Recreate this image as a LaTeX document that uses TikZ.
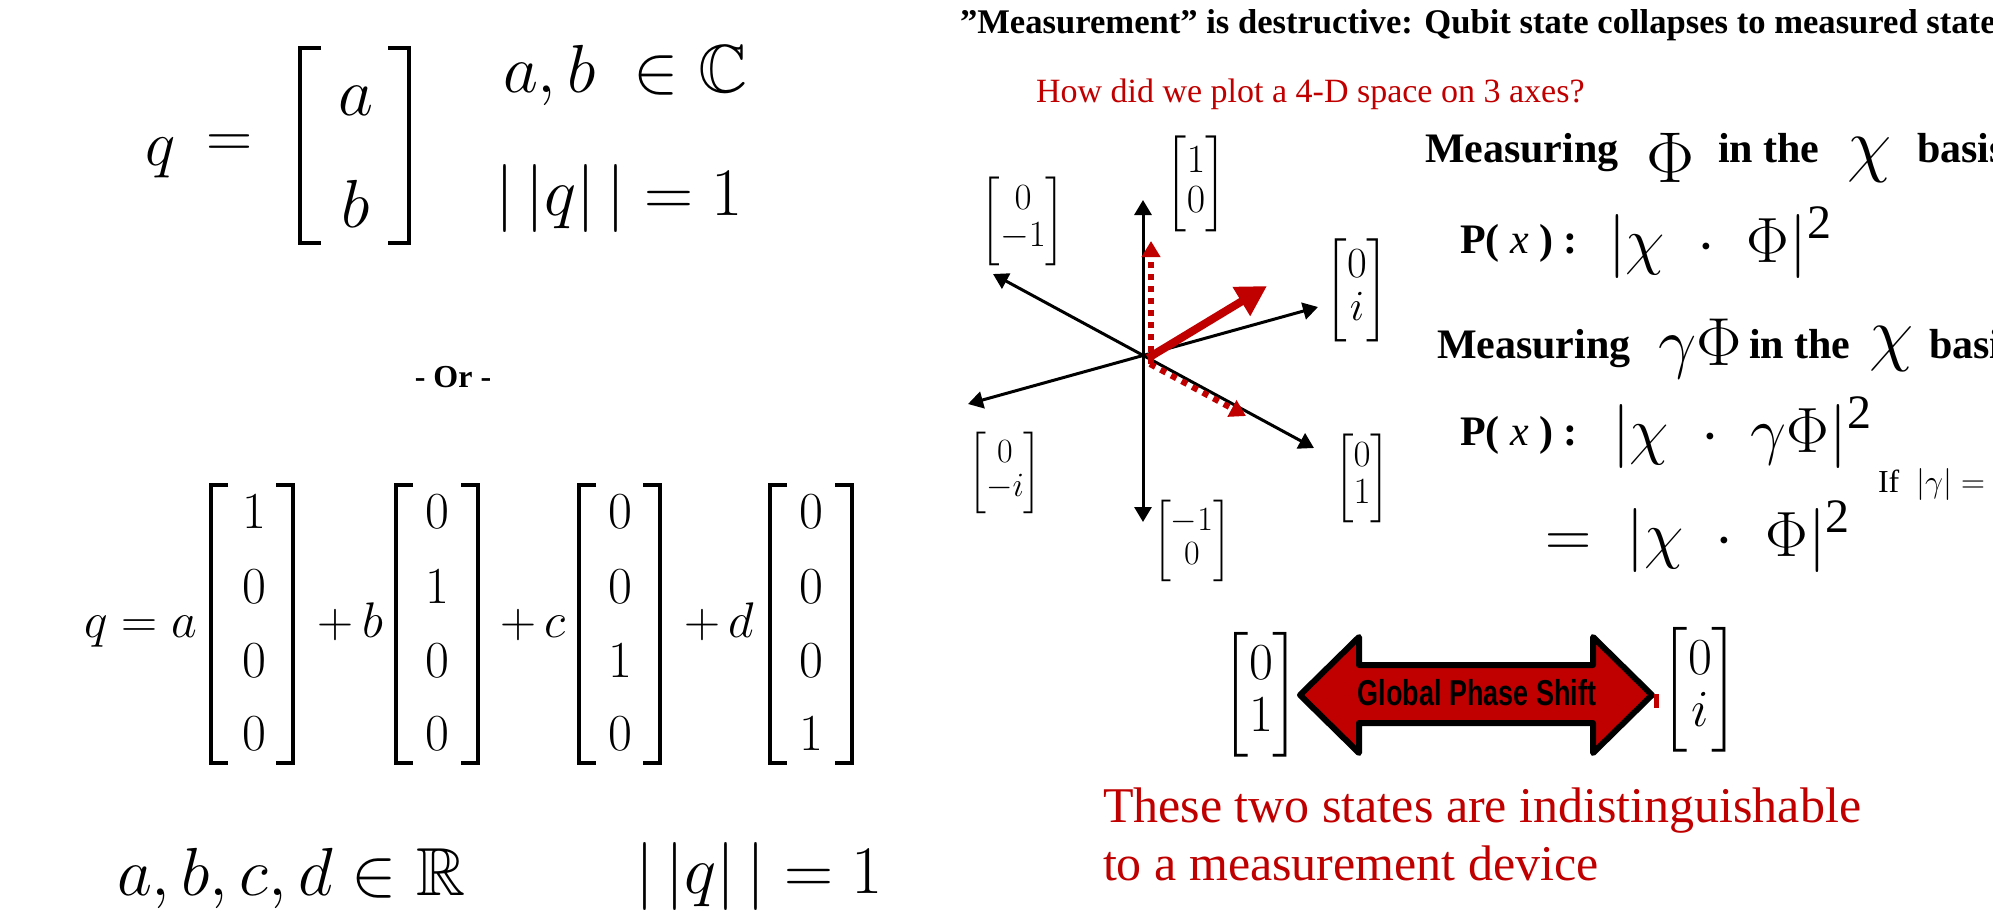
\RequirePackage{fix-cm}
\documentclass[tikz,border=0pt]{standalone}
\usepackage{amsmath,amssymb}
\usepackage{fontspec}
\setmainfont{Liberation Serif}
\newfontfamily\arialfont{Liberation Sans}
\usetikzlibrary{arrows.meta}
\definecolor{dred}{RGB}{192,0,0}
\newcommand\fsz[1]{\fontsize{#1}{#1}\selectfont}
\newcommand\sqr{^{\mbox{\fsz{24}2}}}
\begin{document}
\begin{tikzpicture}[x=0.5pt,y=-0.5pt,
  brk/.style={line width=2pt, line cap=butt, line join=miter},
  txt/.style={inner sep=0pt, outer sep=0pt},
  axis/.style={line width=1.5pt, {Triangle[length=7.5pt,width=8.5pt]}-{Triangle[length=7.5pt,width=8.5pt]}},
  redbig/.style={dred, line width=4pt, -{Triangle[length=15pt,width=16pt]}},
  reddot/.style={dred, line width=3pt, dash pattern=on 3pt off 3pt, -{Triangle[length=8pt,width=9pt]}},
  vec/.style={inner sep=0pt, outer sep=0pt}
]
\useasboundingbox (0,0) rectangle (1993,912);
\clip (0,0) rectangle (1993,912);
\fill[white] (0,0) rectangle (1993,912);

% ---------- top left ----------
\node[txt, anchor=base west, font=\fsz{32}] (q1) at (145,165) {$q$};
\node[txt, font=\fsz{32}] (eq1) at (230,146) {$=$};
\draw[brk] (321,48) -- (300,48) -- (300,243) -- (321,243);
\draw[brk] (388,48) -- (409,48) -- (409,243) -- (388,243);
\node[txt, anchor=base, font=\fsz{34}] (va) at (356,115) {$a$};
\node[txt, anchor=base, font=\fsz{34}] (vb) at (356,227) {$b$};
\node[txt, anchor=base west, font=\fsz{34}] (abC) at (503,92) {$a, b \;\in \mathbb{C}$};
\node[txt, anchor=base west, font=\fsz{34}] (norm1) at (495,215) {$|\,|q|\,| = 1$};

\node[txt, font=\bfseries\fsz{16}] (orr) at (453,377) {- Or -};

% ---------- bottom left ----------
\node[txt, anchor=base east, font=\fsz{25}] (qa) at (197,637) {$q = a$};
\node[txt, anchor=base east, font=\fsz{25}] (pb) at (383,637) {$+\,b$};
\node[txt, anchor=base east, font=\fsz{25}] (pc) at (566,637) {$+\,c$};
\node[txt, anchor=base east, font=\fsz{25}] (pd) at (754,637) {$+\,d$};
\foreach \l/\r in {211/293, 396/478, 579/660, 770/852}{
  \draw[brk] ({\l+17},485) -- (\l,485) -- (\l,763) -- ({\l+17},763);
  \draw[brk] ({\r-17},485) -- (\r,485) -- (\r,763) -- ({\r-17},763);
}
\foreach \cx/\k in {254/1, 437/2, 620/3, 811/4}{
  \foreach \ry/\j in {512/1, 587/2, 661/3, 734/4}{
    \ifnum\k=\j
      \node[txt, font=\fsz{26}] (e\k\j) at (\cx,\ry) {$1$};
    \else
      \node[txt, font=\fsz{26}] (e\k\j) at (\cx,\ry) {$0$};
    \fi
  }
}
\node[txt, anchor=base west, font=\fsz{34}] (abcd) at (117,895) {$a, b, c, d \in \mathbb{R}$};
\node[txt, anchor=base west, font=\fsz{34}] (norm2) at (635,893) {$|\,|q|\,| = 1$};

% ---------- right: title ----------
\node[txt, anchor=base west, font=\bfseries\fsz{17.3}] (title) at (960,33) {”Measurement” is destructive: Qubit state collapses to measured state};
\node[txt, anchor=base west, text=dred, font=\fsz{17}] (howq) at (1036,102) {How did we plot a 4-D space on 3 axes?};

% ---------- axes ----------
\coordinate (O) at (1143,357);
\coordinate (Aup) at (1143,200);
\coordinate (Adn) at (1143,522);
\coordinate (Aul) at (993,274);
\coordinate (Alr) at (1314,448);
\coordinate (All) at (968,404);
\coordinate (Aur) at (1318,307);
\draw[axis] (Adn) -- (Aup);
\draw[axis] (Aul) -- (Alr);
\draw[axis] (All) -- (Aur);
\coordinate (R0) at (1148,358);
\coordinate (R1) at (1267,286);
\coordinate (V0) at (1151,364);
\coordinate (V1) at (1151,241);
\coordinate (D0) at (1150,364);
\coordinate (D1) at (1246,416);
\draw[reddot] (V0) -- (V1);
\draw[reddot] (D0) -- (D1);
\draw[redbig] (R0) -- (R1);

\node[vec, font=\fsz{20}] (k10) at (1196,184) {$\begin{bmatrix}1\\0\end{bmatrix}$};
\node[vec, font=\fsz{18.5}] (k0m1) at (1023,221) {$\begin{bmatrix}0\\-1\end{bmatrix}$};
\node[vec, font=\fsz{21.5}] (k0i) at (1357,290) {$\begin{bmatrix}0\\i\end{bmatrix}$};
\node[vec, font=\fsz{17}] (k0mi) at (1005,473) {$\begin{bmatrix}0\\-i\end{bmatrix}$};
\node[vec, font=\fsz{18.5}] (k01) at (1362,478) {$\begin{bmatrix}0\\1\end{bmatrix}$};
\node[vec, font=\fsz{17}] (km10) at (1192,541) {$\begin{bmatrix}-1\\0\end{bmatrix}$};

% ---------- right: measurement text ----------
\node[txt, anchor=base west, font=\bfseries\fsz{21}] (m1) at (1425,162) {Measuring};
\node[txt, anchor=base, font=\fsz{36}] (phi1) at (1671,182) {$\Phi$};
\node[txt, anchor=base west, font=\bfseries\fsz{21}] (in1) at (1718,162) {in the};
\node[txt, anchor=base, font=\fsz{36}] (chi1) at (1870,168) {$\chi$};
\node[txt, anchor=base west, font=\bfseries\fsz{21}] (bas1) at (1917,162) {basis};

\node[txt, anchor=base west, font=\fsz{21}] (p1) at (1460,253) {\textbf{P(} \textit{x} \textbf{) :}};
\node[txt, anchor=base west, font=\fsz{32}] (ex1) at (1608,262) {$|\chi\;\cdot\;\Phi|\sqr$};

\node[txt, anchor=base west, font=\bfseries\fsz{21}] (m2) at (1437,358) {Measuring};
\node[txt, anchor=base west, font=\fsz{34}] (gphi) at (1658,365) {$\gamma\Phi$};
\node[txt, anchor=base west, font=\bfseries\fsz{21}] (in2) at (1749,358) {in the};
\node[txt, anchor=base, font=\fsz{36}] (chi2) at (1892,357) {$\chi$};
\node[txt, anchor=base west, font=\bfseries\fsz{21}] (bas2) at (1929,358) {basis};

\node[txt, anchor=base west, font=\fsz{21}] (p2) at (1460,445) {\textbf{P(} \textit{x} \textbf{) :}};
\node[txt, anchor=base west, font=\fsz{32}] (ex2) at (1612,452) {$|\chi\;\cdot\;\gamma\Phi|\sqr$};
\node[txt, anchor=base west, font=\fsz{32}] (ex3) at (1545,556) {$=\;|\chi\;\cdot\;\Phi|\sqr$};
\node[txt, anchor=base west, font=\fsz{16}] (ifg) at (1878,492) {If\; $|\gamma| =$};

% ---------- bottom right ----------
\node[vec, font=\fsz{26}] (bv1) at (1261,695) {$\begin{bmatrix}0\\1\end{bmatrix}$};
\node[vec, font=\fsz{26}] (bv2) at (1700,690) {$\begin{bmatrix}0\\i\end{bmatrix}$};
\draw[line width=3pt, line join=round, fill=dred]
  (1300,695) -- (1359,637) -- (1359,665) -- (1593,665) -- (1593,637) -- (1652,695)
  -- (1593,753) -- (1593,723) -- (1359,723) -- (1359,753) -- cycle;
\node[txt, font=\arialfont\bfseries\fsz{18}] (gps) at (1477,693) {\scalebox{0.75}[1]{Global Phase Shift}};
\fill[dred] (1654,694) rectangle (1659,708);

\node[txt, anchor=base west, text=dred, font=\fsz{25}] (indist) at (1103,822) {These two states are indistinguishable};
\node[txt, anchor=base west, text=dred, font=\fsz{25}] (device) at (1103,880) {to a measurement device};
\end{tikzpicture}
\end{document}
